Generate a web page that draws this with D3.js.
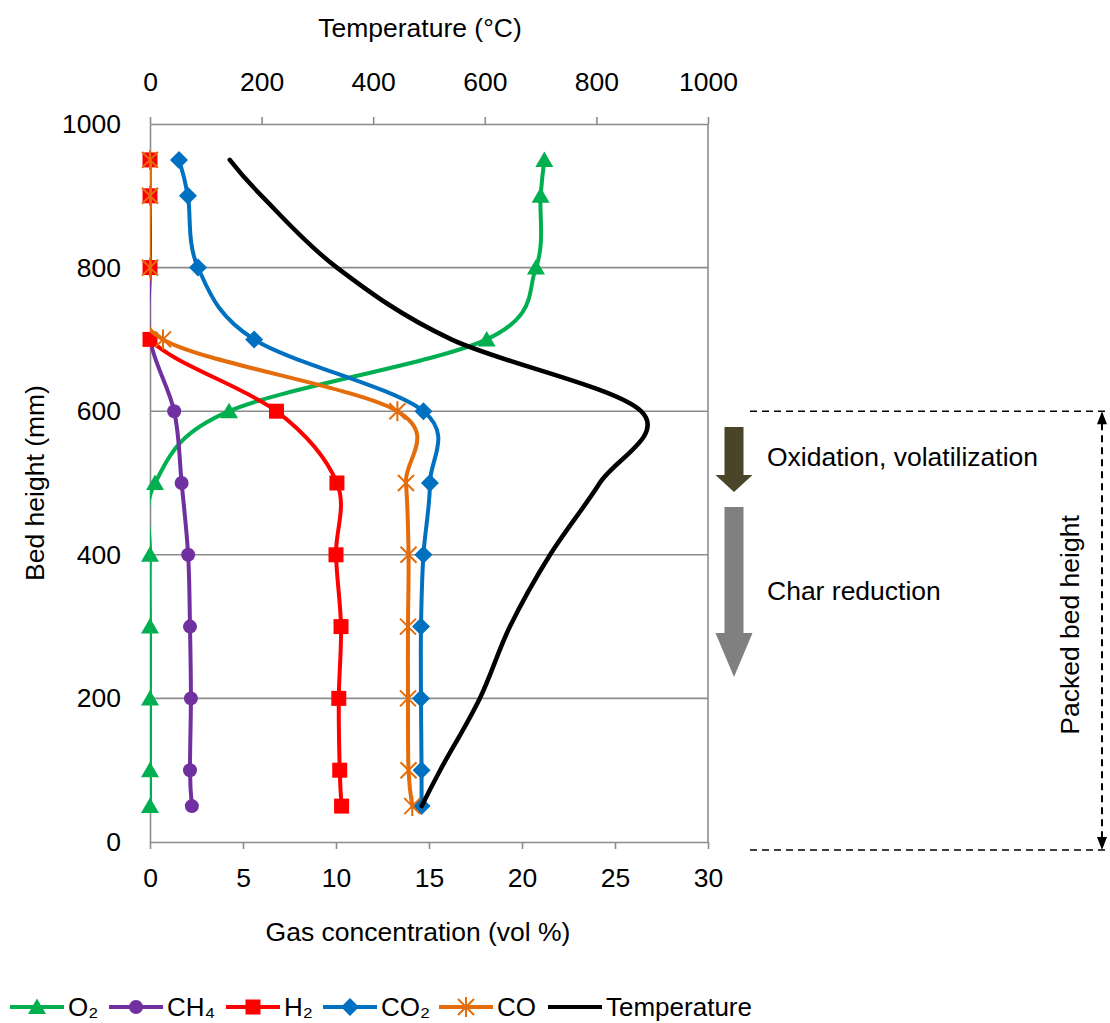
<!DOCTYPE html>
<html>
<head>
<meta charset="utf-8">
<script src="https://cdn.jsdelivr.net/npm/d3@7"></script>
<style>
  body { margin: 0; background: #fff; }
  svg { display: block; }
  text { font-family: "Liberation Sans", Arial, sans-serif; fill: #000; }
</style>
</head>
<body>
<svg id="chart" width="1110" height="1023"></svg>
<script>
// Bed heights (mm) where the gas samples and temperatures were taken
const heights = [950, 900, 800, 700, 600, 500, 400, 300, 200, 100, 50];

// Gas concentrations (vol %) at each height
const o2  = [21.2, 21.0, 20.75, 18.1, 4.25, 0.27, 0, 0, 0, 0, 0];
const ch4 = [0, 0, 0, 0, 1.3, 1.7, 2.05, 2.15, 2.2, 2.15, 2.25];
const h2  = [0, 0, 0, 0, 6.8, 10.05, 10.0, 10.27, 10.15, 10.2, 10.3];
const co2 = [1.56, 2.04, 2.58, 5.6, 14.7, 15.05, 14.7, 14.57, 14.57, 14.6, 14.6];
const co  = [0, 0, 0, 0.7, 13.3, 13.76, 13.9, 13.87, 13.87, 13.9, 14.1];

// Bed temperature (°C) at each height
const temperature = [143, 200, 335, 540, 880, 806, 717, 645, 591, 520, 487];

// Axis ticks
const gasTicks = [0, 5, 10, 15, 20, 25, 30];
const tempTicks = [0, 200, 400, 600, 800, 1000];
const heightTicks = [0, 200, 400, 600, 800, 1000];

// Series look-up: name, values, colour and marker shape
const gasSeries = [
  { name: "O₂",  values: o2,  color: "#00b050", marker: "triangle" },
  { name: "CH₄", values: ch4, color: "#7030a0", marker: "circle" },
  { name: "H₂",  values: h2,  color: "#ff0000", marker: "square" },
  { name: "CO₂", values: co2, color: "#0070c0", marker: "diamond" },
  { name: "CO",  values: co,  color: "#e46c0a", marker: "star" }
];

const svg = d3.select("#chart");
const plot = { left: 150, right: 708, top: 124, bottom: 842 };
const axisColor = "#8c8c8c";
const font = 26.5;

const x = d3.scaleLinear().domain([0, 30]).range([plot.left, plot.right]);
const xT = d3.scaleLinear().domain([0, 1000]).range([plot.left, plot.right]);
const y = d3.scaleLinear().domain([0, 1000]).range([plot.bottom, plot.top]);

// Series lines are clipped to the plot area
svg.append("defs").append("clipPath").attr("id", "plot-clip")
  .append("rect")
  .attr("x", plot.left).attr("y", plot.top)
  .attr("width", plot.right - plot.left).attr("height", plot.bottom - plot.top);

// Horizontal gridlines
svg.append("g").selectAll("line")
  .data(heightTicks.filter(d => d > 0 && d < 1000))
  .join("line")
  .attr("x1", plot.left).attr("x2", plot.right)
  .attr("y1", d => y(d)).attr("y2", d => y(d))
  .attr("stroke", axisColor).attr("stroke-width", 1.6);

// Right border of the plot area
svg.append("line")
  .attr("x1", plot.right).attr("x2", plot.right)
  .attr("y1", plot.top).attr("y2", plot.bottom)
  .attr("stroke", axisColor).attr("stroke-width", 1.6);

function styleAxis(g) {
  g.selectAll(".domain").attr("stroke", axisColor).attr("stroke-width", 1.6);
  g.selectAll(".tick line").attr("stroke", axisColor).attr("stroke-width", 1.6);
  g.selectAll(".tick text").attr("font-size", font).attr("fill", "#000")
    .attr("font-family", '"Liberation Sans", Arial, sans-serif');
}
const fmt = d3.format("d");

// Bottom axis: gas concentration
svg.append("g")
  .attr("transform", `translate(0,${plot.bottom})`)
  .call(d3.axisBottom(x).tickValues(gasTicks).tickFormat(fmt).tickSize(7).tickSizeOuter(0).tickPadding(19))
  .call(styleAxis);

// Top axis: temperature
svg.append("g")
  .attr("transform", `translate(0,${plot.top})`)
  .call(d3.axisTop(xT).tickValues(tempTicks).tickFormat(fmt).tickSize(7).tickSizeOuter(0).tickPadding(26))
  .call(styleAxis);

// Left axis: bed height
svg.append("g")
  .attr("transform", `translate(${plot.left},0)`)
  .call(d3.axisLeft(y).tickValues(heightTicks).tickFormat(fmt).tickSize(0).tickPadding(29))
  .call(styleAxis);

// Axis titles
svg.append("text").attr("x", 420).attr("y", 28).attr("text-anchor", "middle")
  .attr("dominant-baseline", "central").attr("font-size", font).text("Temperature (°C)");
svg.append("text").attr("x", 418).attr("y", 932).attr("text-anchor", "middle")
  .attr("dominant-baseline", "central").attr("font-size", font).text("Gas concentration (vol %)");
svg.append("text").attr("transform", "translate(35,483) rotate(-90)").attr("text-anchor", "middle")
  .attr("dominant-baseline", "central").attr("font-size", font).text("Bed height (mm)");

// Marker shapes
function markerPath(shape) {
  switch (shape) {
    case "triangle": return "M0,-8.5L9,7L-9,7Z";
    case "circle": return "M7,0A7,7 0 1,1 -7,0A7,7 0 1,1 7,0Z";
    case "square": return "M-7.5,-7.5H7.5V7.5H-7.5Z";
    case "diamond": return "M0,-9L9,0L0,9L-9,0Z";
    case "star": return "M-8,-8L8,8M-8,8L8,-8M0,-10V10";
  }
}
function drawMarker(g, shape, color, cx, cy) {
  const p = g.append("path").attr("d", markerPath(shape))
    .attr("transform", `translate(${cx},${cy})`);
  if (shape === "star") p.attr("fill", "none").attr("stroke", color).attr("stroke-width", 2);
  else p.attr("fill", color).attr("stroke", "none");
}

// Smoothed lines through the measured points
const curve = d3.curveCardinal.tension(0);

// Gas concentration profiles
gasSeries.forEach(s => {
  const pts = heights.map((h, i) => [x(s.values[i]), y(h)]);
  const g = svg.append("g");
  g.append("path")
    .attr("clip-path", "url(#plot-clip)")
    .attr("d", d3.line().curve(curve)(pts))
    .attr("fill", "none").attr("stroke", s.color).attr("stroke-width", 4)
    .attr("stroke-linejoin", "round").attr("stroke-linecap", "round");
  pts.forEach(p => drawMarker(g, s.marker, s.color, p[0], p[1]));
});

// Temperature profile
svg.append("path")
  .attr("clip-path", "url(#plot-clip)")
  .attr("d", d3.line().curve(curve)(heights.map((h, i) => [xT(temperature[i]), y(h)])))
  .attr("fill", "none").attr("stroke", "#000").attr("stroke-width", 4.5)
  .attr("stroke-linejoin", "round").attr("stroke-linecap", "round");

// Legend
const legendItems = gasSeries.concat([{ name: "Temperature", color: "#000", marker: null }]);
const legendX = [10, 109, 226, 323, 439, 548];
const legendY = 1007;
legendItems.forEach((s, i) => {
  const g = svg.append("g");
  const x0 = legendX[i];
  g.append("line").attr("x1", x0).attr("x2", x0 + 54)
    .attr("y1", legendY).attr("y2", legendY)
    .attr("stroke", s.color).attr("stroke-width", 4);
  if (s.marker) drawMarker(g, s.marker, s.color, x0 + 27, legendY);
  g.append("text").attr("x", x0 + 58).attr("y", legendY)
    .attr("dominant-baseline", "central").attr("font-size", 26).text(s.name);
});

// Process-zone arrows
function downArrow(cx, y0, yHeadStart, yTip, color) {
  svg.append("path")
    .attr("d", `M${cx - 9.5},${y0}H${cx + 9.5}V${yHeadStart}H${cx + 18.5}L${cx},${yTip}L${cx - 18.5},${yHeadStart}H${cx - 9.5}Z`)
    .attr("fill", color);
}
downArrow(734, 427, 475, 492, "#4a4429");
downArrow(734, 507, 633, 677, "#808080");

svg.append("text").attr("x", 767).attr("y", 457).attr("dominant-baseline", "central")
  .attr("font-size", font).text("Oxidation, volatilization");
svg.append("text").attr("x", 767).attr("y", 591).attr("dominant-baseline", "central")
  .attr("font-size", font).text("Char reduction");

// Packed bed height marker
const bedTop = y(600), bedBottom = 850;
[bedTop, bedBottom].forEach(yy => {
  svg.append("line").attr("x1", 750).attr("x2", 1108).attr("y1", yy).attr("y2", yy)
    .attr("stroke", "#000").attr("stroke-width", 1.6).attr("stroke-dasharray", "7,5");
});
svg.append("line").attr("x1", 1102).attr("x2", 1102).attr("y1", bedTop + 12).attr("y2", bedBottom - 12)
  .attr("stroke", "#000").attr("stroke-width", 2).attr("stroke-dasharray", "7,5");
svg.append("path").attr("d", `M1102,${bedTop}L1107,${bedTop + 13}L1097,${bedTop + 13}Z`).attr("fill", "#000");
svg.append("path").attr("d", `M1102,${bedBottom}L1107,${bedBottom - 13}L1097,${bedBottom - 13}Z`).attr("fill", "#000");
svg.append("text").attr("transform", "translate(1070,625) rotate(-90)").attr("text-anchor", "middle")
  .attr("dominant-baseline", "central").attr("font-size", font).text("Packed bed height");
</script>
</body>
</html>
